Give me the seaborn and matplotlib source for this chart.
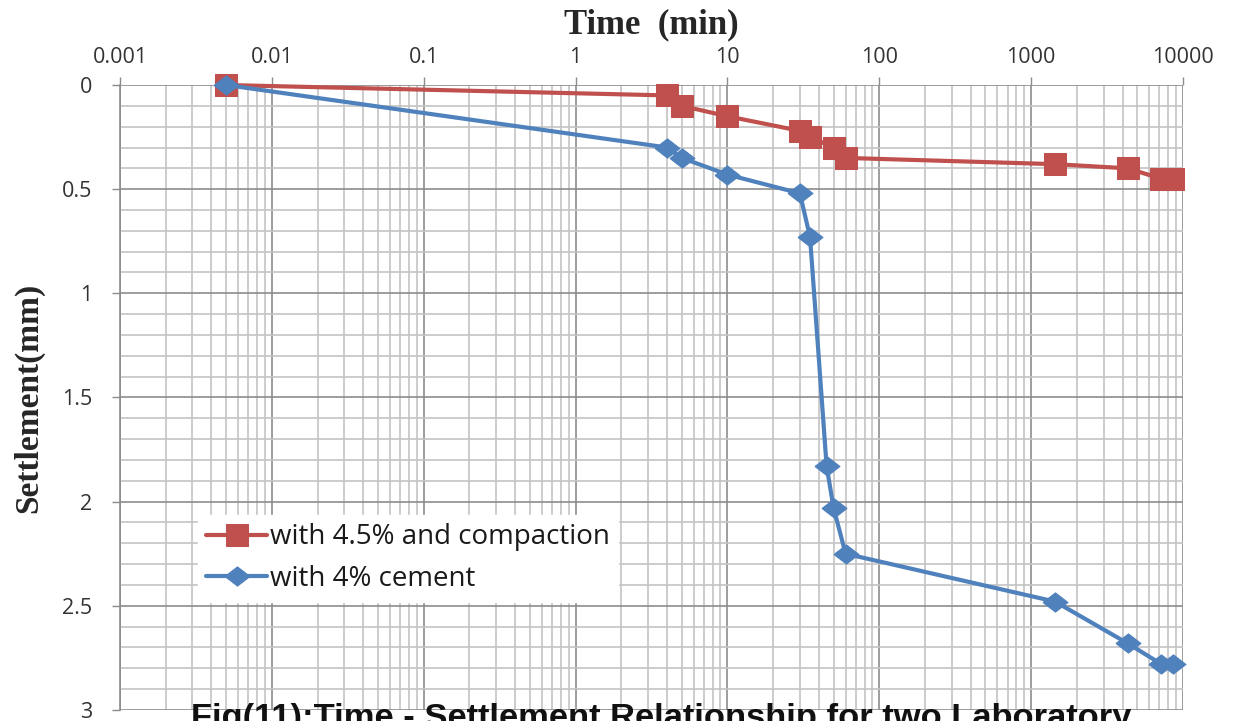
import numpy as np
import pandas as pd
import matplotlib
matplotlib.use("Agg")
import matplotlib.pyplot as plt
import seaborn as sns
from matplotlib.ticker import FixedLocator, NullFormatter, LogLocator

# ---- data ----
time_compaction = [0.005, 4, 5, 10, 30, 35, 50, 60, 1440, 4320, 7200, 8640]
settle_compaction = [0.0, 0.05, 0.10, 0.15, 0.22, 0.25, 0.30, 0.35, 0.38, 0.40, 0.45, 0.45]
time_cement = [0.005, 4, 5, 10, 30, 35, 45, 50, 60, 1440, 4320, 7200, 8640]
settle_cement = [0.0, 0.30, 0.35, 0.43, 0.52, 0.73, 1.83, 2.03, 2.25, 2.48, 2.68, 2.78, 2.78]
series_labels = ["with 4.5% and compaction", "with 4% cement"]
x_ticks = [0.001, 0.01, 0.1, 1, 10, 100, 1000, 10000]
x_tick_labels = ["0.001", "0.01", "0.1", "1", "10", "100", "1000", "10000"]
y_ticks = [0, 0.5, 1, 1.5, 2, 2.5, 3]
y_tick_labels = ["0", "0.5", "1", "1.5", "2", "2.5", "3"]

df_a = pd.DataFrame({"time": time_compaction, "settle": settle_compaction})
df_b = pd.DataFrame({"time": time_cement, "settle": settle_cement})

sns.set_theme(style="white")
plt.rcParams['font.family'] = ['Open Sans', 'DejaVu Sans']

fig = plt.figure(figsize=(12.36, 7.21), dpi=100)
ax = fig.add_axes([0.0971, 0.0153, 0.8600, 0.8668])

red = "#C0504D"
blue = "#4F81BD"
wide_diamond = [(-1.3, 0), (0, 1), (1.3, 0), (0, -1), (-1.3, 0)]

sns.lineplot(data=df_a, x="time", y="settle", ax=ax, sort=False, estimator=None,
             color=red, linewidth=3.0, marker="s", markersize=15.5,
             markeredgecolor=red, label=series_labels[0], clip_on=False, zorder=3)
sns.lineplot(data=df_b, x="time", y="settle", ax=ax, sort=False, estimator=None,
             color=blue, linewidth=3.0, marker=wide_diamond, markersize=18,
             markeredgecolor=blue, label=series_labels[1], clip_on=False, zorder=4)

ax.set_xscale("log")
ax.set_xlim(0.001, 10000)
ax.set_ylim(3, 0)

ax.xaxis.tick_top()
ax.xaxis.set_label_position("top")
ax.set_xticks(x_ticks)
ax.set_xticklabels(x_tick_labels)
ax.xaxis.set_minor_locator(LogLocator(base=10, subs=np.arange(2, 10), numticks=100))
ax.xaxis.set_minor_formatter(NullFormatter())
ax.set_yticks(y_ticks)
ax.set_yticklabels(y_tick_labels)
ax.yaxis.set_minor_locator(FixedLocator(np.arange(0, 3.01, 0.1)))

ax.grid(which="major", color="#8c8c8c", linewidth=1.2)
ax.grid(which="minor", color="#c4c4c4", linewidth=1.2)
ax.set_axisbelow(True)

ax.tick_params(axis="x", which="major", top=True, length=6, width=1, color="#8c8c8c",
               labelsize=15.5, pad=6, labelcolor="#333333")
ax.tick_params(axis="x", which="minor", top=False, length=0)
ax.tick_params(axis="y", which="major", left=True, length=6, width=1, color="#8c8c8c",
               labelsize=15.5, pad=14, labelcolor="#333333")
ax.tick_params(axis="y", which="minor", left=False, length=0)

for s in ["bottom", "right", "top"]:
    ax.spines[s].set_visible(False)
ax.spines["left"].set_color("#8c8c8c")
ax.spines["left"].set_linewidth(1.2)

ax.set_xlabel("Time  (min)", fontsize=25, fontweight="bold",
              family=["Liberation Serif", "DejaVu Serif"], labelpad=10)
ax.set_ylabel("Settlement(mm)", fontsize=24, fontweight="bold",
              family=["Liberation Serif", "DejaVu Serif"], labelpad=13)

leg = ax.legend(loc="upper left", bbox_to_anchor=(0.073, 0.312), frameon=True,
                fancybox=False, fontsize=20, handlelength=2.2, borderpad=0.3,
                labelspacing=0.5, handletextpad=0.1, borderaxespad=0)
leg.get_frame().set_edgecolor("white")
leg.get_frame().set_facecolor("white")
leg.get_frame().set_alpha(1)
for t in leg.get_texts():
    t.set_color("#1a1a1a")

fig.text(0.535, -0.009, "Fig(11):Time - Settlement Relationship for two Laboratory",
         ha="center", va="baseline", fontsize=24.8, fontweight="bold",
         family=["Liberation Sans", "DejaVu Sans"], color="#111111")

fig.savefig("out.png", dpi=100)
